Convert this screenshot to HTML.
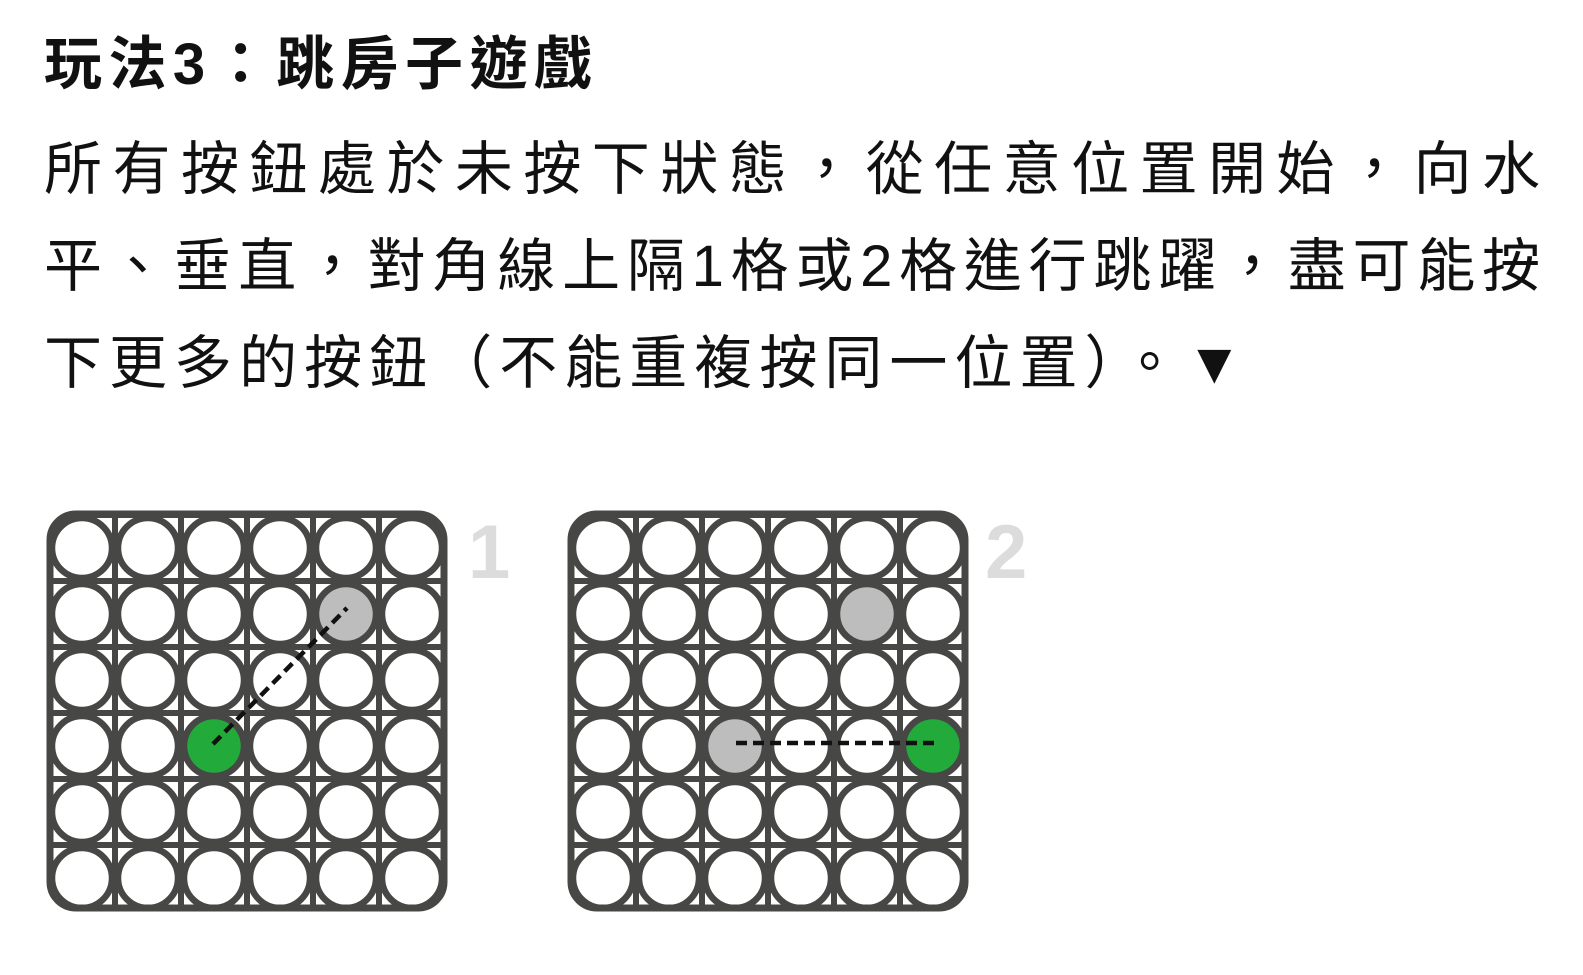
<!DOCTYPE html>
<html><head><meta charset="utf-8"><style>
html,body{margin:0;padding:0;background:#fff;width:1583px;height:975px;overflow:hidden}
svg{display:block}
</style></head><body>
<svg width="1583" height="975" xmlns="http://www.w3.org/2000/svg">
<defs>
<pattern id="p1" patternUnits="userSpaceOnUse" x="49" y="515" width="66" height="66">
  <rect width="66" height="66" fill="#fff"/>
  <rect x="0" y="0" width="3" height="66" fill="#474746"/>
  <rect x="63" y="0" width="3" height="66" fill="#474746"/>
  <rect x="0" y="0" width="66" height="3" fill="#474746"/>
  <rect x="0" y="63" width="66" height="3" fill="#474746"/>
  <circle cx="33" cy="33" r="30" fill="#fff" stroke="#474746" stroke-width="6.5"/>
</pattern>
<pattern id="p2" patternUnits="userSpaceOnUse" x="570" y="515" width="66" height="66">
  <rect width="66" height="66" fill="#fff"/>
  <rect x="0" y="0" width="3" height="66" fill="#474746"/>
  <rect x="63" y="0" width="3" height="66" fill="#474746"/>
  <rect x="0" y="0" width="66" height="3" fill="#474746"/>
  <rect x="0" y="63" width="66" height="3" fill="#474746"/>
  <circle cx="33" cy="33" r="30" fill="#fff" stroke="#474746" stroke-width="6.5"/>
</pattern>
</defs>
<g font-family="'Liberation Sans','Noto Sans CJK TC',sans-serif" fill="#111">
<text x="44" y="84" font-size="58" font-weight="bold" textLength="548" lengthAdjust="spacing">玩法3：跳房子遊戲</text>
<text x="44" y="189" font-size="58" textLength="1496" lengthAdjust="spacing">所有按鈕處於未按下狀態，從任意位置開始，向水</text>
<text x="44" y="286" font-size="58" textLength="1496" lengthAdjust="spacing">平、垂直，對角線上隔1格或2格進行跳躍，盡可能按</text>
<text x="44" y="383" font-size="58" textLength="1199" lengthAdjust="spacing">下更多的按鈕（不能重複按同一位置）。▼</text>
</g>

<rect x="47" y="511" width="400" height="400" rx="28" fill="#474746"/>
<rect x="52" y="518" width="390" height="390" fill="url(#p1)"/>
<rect x="50" y="514" width="394" height="394" rx="26" fill="none" stroke="#474746" stroke-width="7"/>
<circle cx="346" cy="614" r="30" fill="#bdbdbd" stroke="#474746" stroke-width="6.5"/>
<circle cx="214" cy="746" r="30" fill="#22ab3b" stroke="#474746" stroke-width="6.5"/>

<rect x="568" y="511" width="400" height="400" rx="28" fill="#474746"/>
<rect x="573" y="518" width="390" height="390" fill="url(#p2)"/>
<rect x="571" y="514" width="394" height="394" rx="26" fill="none" stroke="#474746" stroke-width="7"/>
<circle cx="867" cy="614" r="30" fill="#bdbdbd" stroke="#474746" stroke-width="6.5"/>
<circle cx="735" cy="746" r="30" fill="#bdbdbd" stroke="#474746" stroke-width="6.5"/>
<circle cx="933" cy="746" r="30" fill="#22ab3b" stroke="#474746" stroke-width="6.5"/>

<text x="468" y="578" font-family="'Liberation Sans',sans-serif" font-weight="bold" font-size="76" fill="#dcdcdc">1</text>
<text x="985" y="578" font-family="'Liberation Sans',sans-serif" font-weight="bold" font-size="76" fill="#dcdcdc">2</text>
<line x1="213" y1="744" x2="347" y2="608" stroke="#111" stroke-width="4.5" stroke-dasharray="11,6"/>
<line x1="736" y1="743" x2="937" y2="743" stroke="#111" stroke-width="4.5" stroke-dasharray="11,6"/>
</svg>
</body></html>
